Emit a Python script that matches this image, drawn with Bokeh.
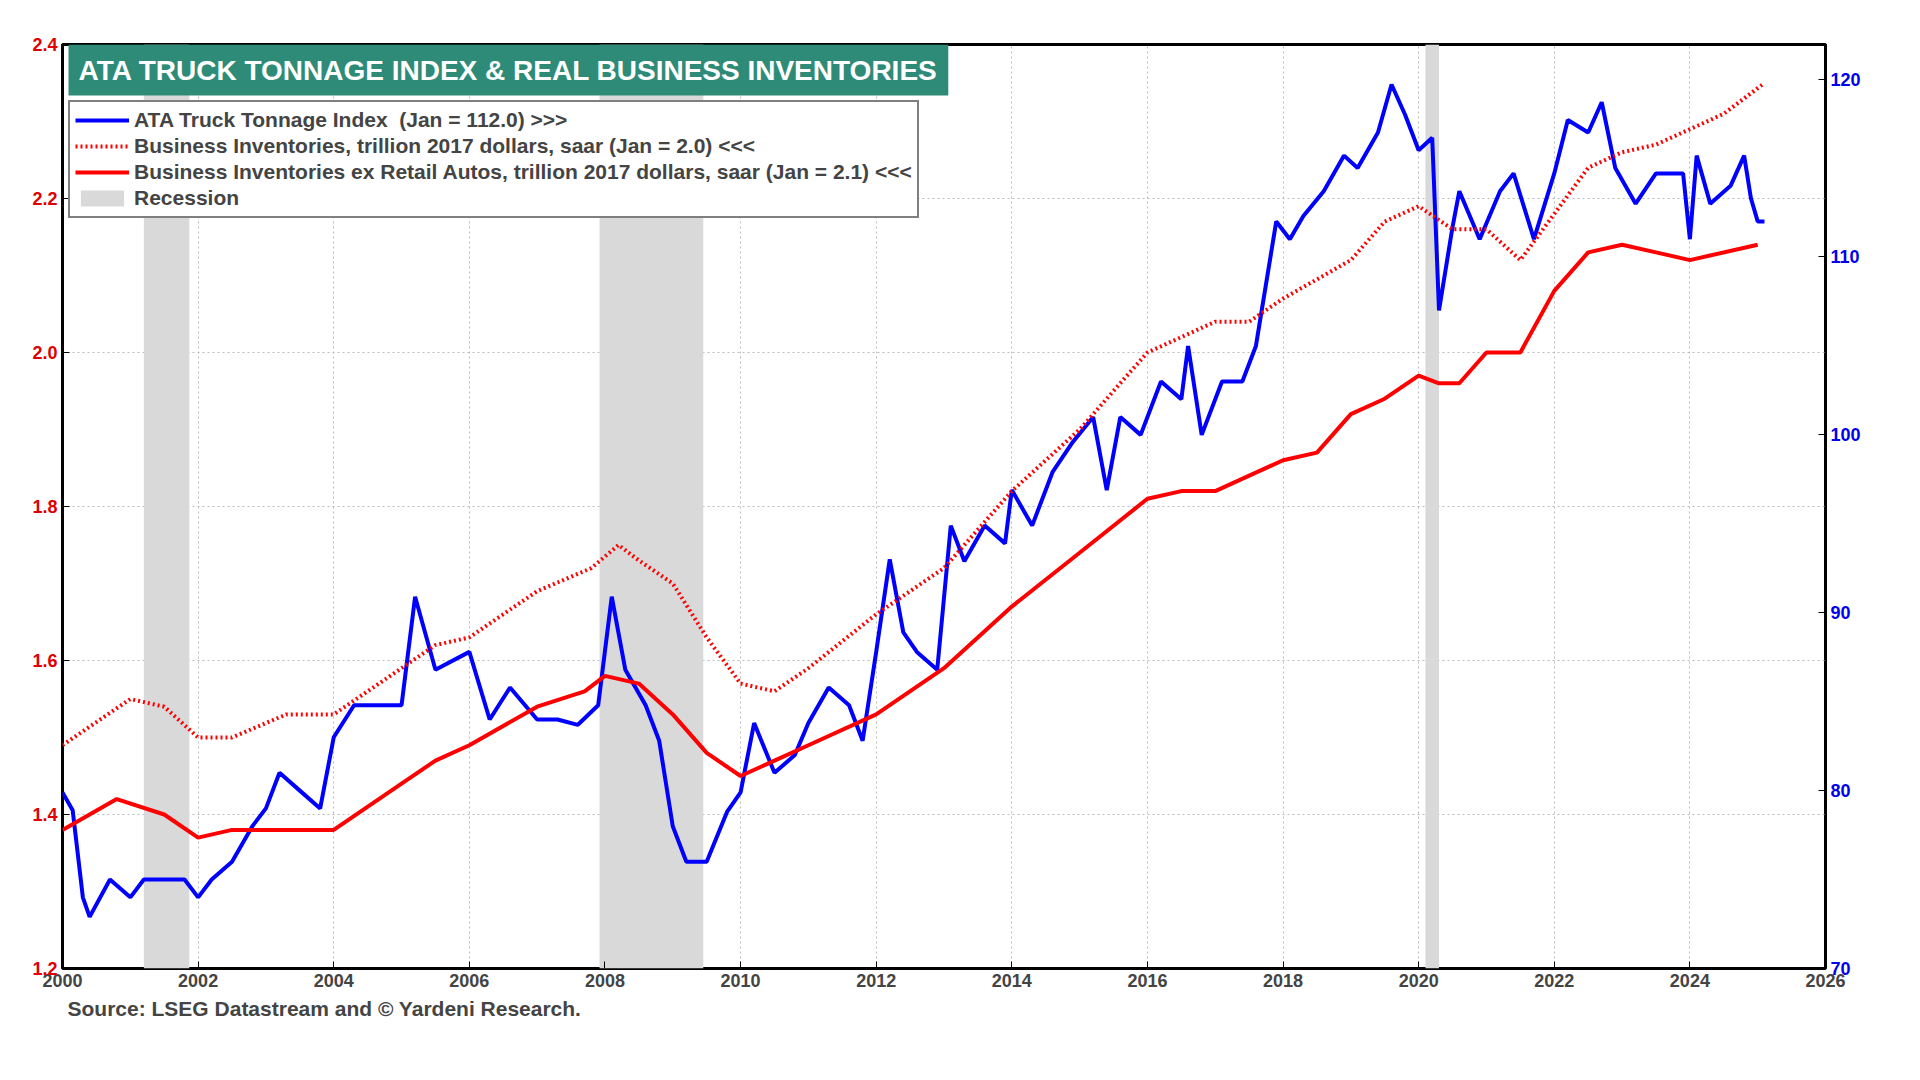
from bokeh.plotting import figure
from bokeh.models import Range1d, LinearAxis, Label, Legend, LegendItem, Title, FixedTicker, BoxAnnotation, NumeralTickFormatter
from bokeh.embed import file_html
from bokeh.resources import INLINE

truck_t = [2000.0,2000.15,2000.3,2000.4,2000.7,2001.0,2001.2,2001.5,2001.8,2002.0,2002.2,2002.5,2002.8,2003.0,2003.2,2003.5,2003.8,2004.0,2004.3,2004.6,2005.0,2005.2,2005.5,2006.0,2006.3,2006.6,2007.0,2007.3,2007.6,2007.9,2008.1,2008.3,2008.6,2008.8,2009.0,2009.2,2009.5,2009.8,2010.0,2010.2,2010.5,2010.8,2011.0,2011.3,2011.6,2011.8,2012.0,2012.2,2012.4,2012.6,2012.9,2013.1,2013.3,2013.6,2013.9,2014.0,2014.3,2014.6,2014.9,2015.2,2015.4,2015.6,2015.9,2016.2,2016.5,2016.6,2016.8,2017.1,2017.4,2017.6,2017.9,2018.1,2018.3,2018.6,2018.9,2019.1,2019.4,2019.6,2019.8,2020.0,2020.2,2020.3,2020.5,2020.6,2020.9,2021.2,2021.4,2021.7,2022.0,2022.2,2022.5,2022.7,2022.9,2023.2,2023.5,2023.9,2024.0,2024.1,2024.3,2024.6,2024.8,2024.9,2025.0,2025.1]
truck_v = [79.9,78.9,74.0,72.9,75.0,74.0,75.0,75.0,75.0,74.0,75.0,76.0,78.0,79.0,81.0,80.0,79.0,83.0,84.8,84.8,84.8,90.9,86.8,87.8,84.0,85.8,84.0,84.0,83.7,84.8,90.9,86.8,84.8,82.8,78.0,76.0,76.0,78.8,79.9,83.8,81.0,82.0,83.8,85.8,84.8,82.8,87.8,93.0,88.9,87.8,86.8,94.9,92.9,94.9,93.9,96.9,94.9,97.9,99.6,101.0,96.9,101.0,100.0,103.0,102.0,105.0,100.0,103.0,103.0,105.0,112.0,111.0,112.3,113.7,115.7,115.0,117.0,119.7,118.0,116.0,116.7,107.0,111.7,113.7,111.0,113.7,114.7,111.0,114.7,117.7,117.0,118.7,115.0,113.0,114.7,114.7,111.0,115.7,113.0,114.0,115.7,113.3,112.0,112.0]

inv_t = [2000.0,2001.0,2001.5,2002.0,2002.5,2003.3,2004.0,2005.0,2005.5,2006.0,2007.0,2007.8,2008.2,2008.5,2009.0,2009.5,2010.0,2010.5,2011.0,2012.0,2013.0,2014.0,2015.0,2016.0,2017.0,2017.5,2018.0,2019.0,2019.5,2020.0,2020.5,2021.0,2021.5,2022.0,2022.5,2023.0,2023.5,2024.0,2024.5,2025.1]
inv_v = [1.49,1.55,1.54,1.50,1.50,1.53,1.53,1.59,1.62,1.63,1.69,1.72,1.75,1.73,1.70,1.63,1.57,1.56,1.59,1.66,1.72,1.82,1.90,2.00,2.04,2.04,2.07,2.12,2.17,2.19,2.16,2.16,2.12,2.18,2.24,2.26,2.27,2.29,2.31,2.35]

exa_t = [2000.0,2000.8,2001.5,2002.0,2002.5,2003.0,2004.0,2005.0,2005.5,2006.0,2007.0,2007.7,2008.0,2008.5,2009.0,2009.5,2010.0,2010.5,2011.0,2012.0,2013.0,2014.0,2015.0,2016.0,2016.5,2017.0,2018.0,2018.5,2019.0,2019.5,2020.0,2020.3,2020.6,2021.0,2021.5,2022.0,2022.5,2023.0,2023.5,2024.0,2025.0]
exa_v = [1.38,1.42,1.40,1.37,1.38,1.38,1.38,1.44,1.47,1.49,1.54,1.56,1.58,1.57,1.53,1.48,1.45,1.47,1.49,1.53,1.59,1.67,1.74,1.81,1.82,1.82,1.86,1.87,1.92,1.94,1.97,1.96,1.96,2.00,2.00,2.08,2.13,2.14,2.13,2.12,2.14]

recessions = [(2001.2, 2001.87), (2007.92, 2009.45), (2020.1, 2020.3)]

FONT = "Liberation Sans"
p = figure(width=1900, height=1062, x_range=Range1d(2000, 2026), y_range=Range1d(1.2, 2.4),
           output_backend="svg", toolbar_location=None, min_border_left=62, min_border_right=75,
           min_border_top=44, min_border_bottom=94)
p.extra_y_ranges = {"r": Range1d(70, 70 + 1.2 * 645 / 14.9)}
ra = LinearAxis(y_range_name="r", ticker=FixedTicker(ticks=[70, 80, 90, 100, 110, 120]))
p.add_layout(ra, "right")

p.yaxis[0].ticker = FixedTicker(ticks=[1.2, 1.4, 1.6, 1.8, 2.0, 2.2, 2.4])
p.yaxis[0].formatter = NumeralTickFormatter(format="0.0")
p.xaxis.ticker = FixedTicker(ticks=list(range(2000, 2027, 2)))
for ax in p.axis:
    ax.major_label_text_font = FONT
    ax.major_label_text_font_style = "bold"
    ax.major_label_text_font_size = "18px"
    ax.axis_line_color = None
    ax.minor_tick_line_color = None
    ax.major_tick_line_color = "black"
    ax.major_tick_in = 7
    ax.major_tick_out = 0
p.yaxis[0].major_label_text_color = "#e00000"
ra.major_label_text_color = "#0000ee"
p.outline_line_color = "black"
p.outline_line_width = 3
p.xgrid.grid_line_color = "#bbbbbb"
p.ygrid.grid_line_color = "#bbbbbb"
p.xgrid.grid_line_dash = "2 3"
p.ygrid.grid_line_dash = "2 3"

for a, b in recessions:
    p.add_layout(BoxAnnotation(left=a, right=b, fill_color="#d9d9d9", fill_alpha=1, line_color=None, level="underlay"))

rec = p.quad(left=[2001], right=[2001], bottom=[1.3], top=[1.3], fill_color="#d9d9d9", line_color=None)
r1 = p.line(truck_t, truck_v, y_range_name="r", line_color="#0000ff", line_width=4)
r2 = p.line(inv_t, inv_v, line_color="#ff0000", line_width=4, line_dash="2 3")
r3 = p.line(exa_t, exa_v, line_color="#ff0000", line_width=4)

leg = Legend(items=[
    LegendItem(label="ATA Truck Tonnage Index  (Jan = 112.0) >>>", renderers=[r1]),
    LegendItem(label="Business Inventories, trillion 2017 dollars, saar (Jan = 2.0) <<<", renderers=[r2]),
    LegendItem(label="Business Inventories ex Retail Autos, trillion 2017 dollars, saar (Jan = 2.1) <<<", renderers=[r3]),
    LegendItem(label="Recession", renderers=[rec]),
], location=(6, 750), label_text_font=FONT, label_text_font_style="bold", label_text_font_size="21px",
   border_line_color="black", border_line_width=2, padding=5, spacing=0, label_height=26,
   glyph_height=20, glyph_width=54, margin=0, background_fill_alpha=1)
p.add_layout(leg)

p.add_layout(Label(x=6, y=873, x_units="screen", y_units="screen",
                   text="ATA TRUCK TONNAGE INDEX & REAL BUSINESS INVENTORIES",
                   text_font=FONT, text_font_style="bold", text_font_size="28px", text_color="white",
                   background_fill_color="#2e8b78", padding=10,
                   border_line_color=None))
p.add_layout(Title(text="Source: LSEG Datastream and © Yardeni Research.", text_font=FONT,
                   text_font_style="bold", text_font_size="21px", align="left", offset=5), "below")

open("out.html", "w").write(file_html(p, INLINE))
